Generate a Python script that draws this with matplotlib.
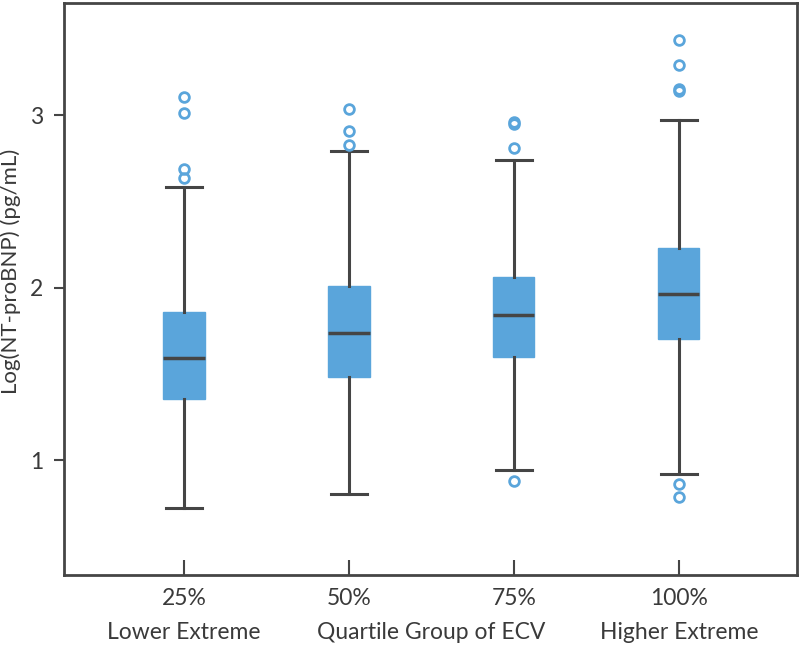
import matplotlib
matplotlib.use("Agg")
import matplotlib.pyplot as plt

# values
groups = ["25%", "50%", "75%", "100%"]
group_notes = ["Lower Extreme", "Quartile Group of ECV", "Higher Extreme"]
medians = [1.596, 1.739, 1.843, 1.965]
q1 = [1.357, 1.486, 1.598, 1.703]
q3 = [1.859, 2.013, 2.062, 2.234]
whisker_low = [0.723, 0.804, 0.943, 0.922]
whisker_high = [2.584, 2.792, 2.744, 2.974]
outliers = [
    [3.109, 3.016, 2.692, 2.636],
    [3.038, 2.910, 2.831],
    [2.965, 2.950, 2.813, 0.883],
    [3.438, 3.291, 3.155, 3.140, 0.862, 0.787],
]

BLUE = "#5aa5db"
DARK = "#454545"
TEXT = "#3a3a3a"

plt.rcParams["font.family"] = ["Lato", "DejaVu Sans"]

stats = []
for i, g in enumerate(groups):
    stats.append({
        "label": g,
        "med": medians[i],
        "q1": q1[i],
        "q3": q3[i],
        "whislo": whisker_low[i],
        "whishi": whisker_high[i],
        "fliers": outliers[i],
    })

fig = plt.figure(figsize=(8, 6.45), dpi=100)
ax = fig.add_axes([0.08, 0.1085, 0.916, 0.8868])

positions = list(range(1, len(groups) + 1))
ax.bxp(
    stats,
    positions=positions,
    widths=0.25,
    patch_artist=True,
    boxprops=dict(facecolor=BLUE, edgecolor=BLUE, linewidth=1),
    medianprops=dict(color=DARK, linewidth=2.5),
    whiskerprops=dict(color=DARK, linewidth=2.2),
    capprops=dict(color=DARK, linewidth=2.2),
    capwidths=0.22,
    flierprops=dict(marker="o", markersize=7, markerfacecolor="none",
                    markeredgecolor=BLUE, markeredgewidth=2),
)

ax.set_xlim(0.273, 4.715)
ax.set_ylim(0.336, 3.652)
ax.set_yticks([1, 2, 3])
ax.set_yticklabels(["1", "2", "3"])
ax.set_xticks(positions)
ax.set_xticklabels(groups)

ax.tick_params(axis="y", direction="out", length=7, width=1.5, color=DARK,
               labelsize=16.5, labelcolor=TEXT, pad=8)
ax.tick_params(axis="x", direction="in", length=11, width=1.5, color=DARK,
               labelsize=16.5, labelcolor=TEXT, pad=9)

for side in ["left", "right", "top", "bottom"]:
    ax.spines[side].set_color(DARK)
    ax.spines[side].set_linewidth(2)

ax.set_ylabel("Log(NT-proBNP) (pg/mL)", fontsize=16, color=TEXT)
# right edge of the rotated label sits about 20 px from the figure edge
ax.yaxis.set_label_coords(-43 / 733, 0.53)

# second row of category labels under the ticks
note_x = [1, 2.5, 4]
for x, note in zip(note_x, group_notes):
    ax.text(x, -0.1, note, transform=ax.get_xaxis_transform(),
            ha="center", va="center", fontsize=16.5, color=TEXT)

fig.savefig("out.png", dpi=100)
